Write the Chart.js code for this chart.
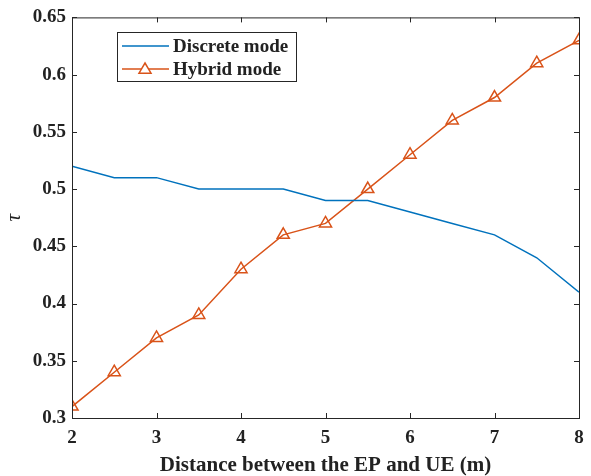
<!DOCTYPE html>
<html>
<head>
<meta charset="utf-8">
<script src="https://cdn.jsdelivr.net/npm/chart.js@4/dist/chart.umd.min.js"></script>
<style>
  html, body { margin: 0; padding: 0; background: #fff; }
  canvas { display: block; }
</style>
</head>
<body>
<canvas id="grafik" width="591" height="476"></canvas>
<script>
const distances = [2, 2.5, 3, 3.5, 4, 4.5, 5, 5.5, 6, 6.5, 7, 7.5, 8];
const discreteMode = [0.52, 0.51, 0.51, 0.50, 0.50, 0.50, 0.49, 0.49, 0.48, 0.47, 0.46, 0.44, 0.41];
const hybridMode = [0.31, 0.34, 0.37, 0.39, 0.43, 0.46, 0.47, 0.50, 0.53, 0.56, 0.58, 0.61, 0.63];
const xTicks = [2, 3, 4, 5, 6, 7, 8];
const yTicks = [0.3, 0.35, 0.4, 0.45, 0.5, 0.55, 0.6, 0.65];

const serif = "'Liberation Serif', 'Times New Roman', serif";
const blue = "#0072BD";
const orange = "#D95319";
const ink = "#222";

// box around the plot, inward ticks on all sides, legend inside
const matlabBox = {
  id: "matlabBox",
  afterDraw(chart) {
    const ctx = chart.ctx;
    const a = chart.chartArea;
    const xs = chart.scales.x, ys = chart.scales.y;
    ctx.save();
    ctx.strokeStyle = "#262626";
    ctx.lineWidth = 1;
    ctx.strokeRect(a.left + 0.5, a.top + 0.5, a.right - a.left, a.bottom - a.top);
    ctx.beginPath();
    xTicks.forEach(v => {
      const px = Math.round(xs.getPixelForValue(v)) + 0.5;
      ctx.moveTo(px, a.bottom); ctx.lineTo(px, a.bottom - 5);
      ctx.moveTo(px, a.top); ctx.lineTo(px, a.top + 5);
    });
    yTicks.forEach(v => {
      const py = Math.round(ys.getPixelForValue(v)) + 0.5;
      ctx.moveTo(a.left, py); ctx.lineTo(a.left + 5, py);
      ctx.moveTo(a.right, py); ctx.lineTo(a.right - 5, py);
    });
    ctx.stroke();

    // legend
    const lx = 117, ly = 32, lw = 179, lh = 49;
    ctx.fillStyle = "#fff";
    ctx.fillRect(lx, ly, lw, lh);
    ctx.strokeStyle = "#262626";
    ctx.strokeRect(lx + 0.5, ly + 0.5, lw, lh);
    ctx.font = "bold 19px " + serif;
    ctx.textBaseline = "middle";
    const items = [
      { label: "Discrete mode", color: blue, marker: false, y: ly + 14 },
      { label: "Hybrid mode", color: orange, marker: true, y: ly + 37 }
    ];
    items.forEach(it => {
      ctx.strokeStyle = it.color;
      ctx.lineWidth = 1.5;
      ctx.beginPath();
      ctx.moveTo(lx + 5, it.y); ctx.lineTo(lx + 52, it.y);
      ctx.stroke();
      if (it.marker) {
        const cx = lx + 28, r = 6;
        ctx.beginPath();
        ctx.moveTo(cx, it.y - r);
        ctx.lineTo(cx + r, it.y + r * 0.7);
        ctx.lineTo(cx - r, it.y + r * 0.7);
        ctx.closePath();
        ctx.fillStyle = "#fff";
        ctx.fill();
        ctx.stroke();
      }
      ctx.fillStyle = ink;
      ctx.fillText(it.label, lx + 56, it.y + 1);
    });
    ctx.restore();
  }
};

new Chart(document.getElementById("grafik").getContext("2d"), {
  type: "line",
  data: {
    labels: distances,
    datasets: [
      {
        label: "Discrete mode",
        data: distances.map((d, i) => ({ x: d, y: discreteMode[i] })),
        borderColor: blue,
        borderWidth: 1.5,
        pointRadius: 0,
        fill: false,
        tension: 0
      },
      {
        label: "Hybrid mode",
        data: distances.map((d, i) => ({ x: d, y: hybridMode[i] })),
        borderColor: orange,
        borderWidth: 1.5,
        pointStyle: "triangle",
        pointRadius: 7,
        pointBorderWidth: 1.5,
        pointBackgroundColor: "rgba(255,255,255,0)",
        pointBorderColor: orange,
        fill: false,
        tension: 0
      }
    ]
  },
  options: {
    responsive: false,
    animation: false,
    layout: { padding: { top: 17, right: 12, left: 0, bottom: 0 } },
    plugins: { legend: { display: false }, tooltip: { enabled: false } },
    scales: {
      x: {
        type: "linear",
        min: 2, max: 8,
        afterBuildTicks: s => { s.ticks = xTicks.map(v => ({ value: v })); },
        afterFit: s => { s.height = 58; },
        grid: { display: false, drawTicks: false },
        border: { display: false },
        ticks: {
          color: ink,
          padding: 6,
          font: { family: serif, size: 19, weight: "bold", lineHeight: 1.5 },
          maxRotation: 0
        },
        title: {
          display: true,
          text: "Distance between the EP and UE (m)",
          color: ink,
          padding: { top: 0, bottom: -2 },
          font: { family: serif, size: 21, weight: "bold" }
        }
      },
      y: {
        min: 0.3, max: 0.65,
        afterBuildTicks: s => { s.ticks = yTicks.map(v => ({ value: v })); },
        afterFit: s => { s.width = 72; },
        grid: { display: false, drawTicks: false },
        border: { display: false },
        ticks: {
          color: ink,
          padding: 6,
          font: { family: serif, size: 19, weight: "bold" },
          callback: v => String(Math.round(v * 100) / 100)
        },
        title: {
          display: true,
          text: "τ",
          color: ink,
          padding: { bottom: 0, top: 2 },
          font: { family: serif, size: 21, style: "italic" }
        }
      }
    }
  },
  plugins: [matlabBox]
});
</script>
</body>
</html>
